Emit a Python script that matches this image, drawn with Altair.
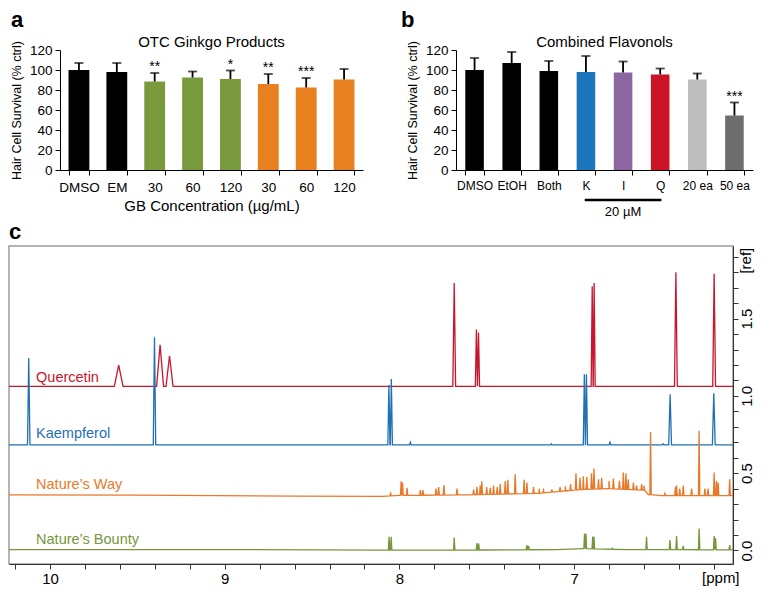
import altair as alt
import numpy as np
import pandas as pd

FONT = "Liberation Sans"

# ---------------- panel a : OTC Ginkgo products ----------------
a_labels = ["DMSO", "EM", "30", "60", "120", "30", "60", "120"]
a_values = [100, 98, 88.5, 92.5, 91, 86, 82.5, 90.5]
a_upper = [107, 107, 97, 98.5, 99.5, 96, 92, 101]
a_stars = ["", "", "**", "", "*", "**", "***", ""]
a_colors = ["#000000", "#000000", "#78993c", "#78993c", "#78993c",
            "#e9801f", "#e9801f", "#e9801f"]

# ---------------- panel b : combined flavonols ----------------
b_labels = ["DMSO", "EtOH", "Both", "K", "I", "Q", "20 ea", "50 ea"]
b_values = [100, 107, 99, 98, 97.5, 95.5, 90.5, 54.5]
b_upper = [112, 118, 109, 114, 108.5, 101.5, 96.5, 67.5]
b_stars = ["", "", "", "", "", "", "", "***"]
b_colors = ["#000000", "#000000", "#000000", "#1b75bb", "#8c66a1",
            "#cc1427", "#bdbdbd", "#6d6d6d"]
b_bracket = ["K", "Q"]
b_bracket_label = "20 µM"

y_ticks = [0, 20, 40, 60, 80, 100, 120]

# ---------------- panel c : 1H NMR spectra ----------------
spec_names = ["Quercetin", "Kaempferol", "Nature’s Way", "Nature’s Bounty"]
spec_colors = ["#c8162c", "#1f70b4", "#e8792a", "#77963c"]
label_ppm = 10.08
label_val = [1.119, 0.756, 0.425, 0.069]

q_base_ppm = [10.27, 6.046]
q_base = [1.062, 1.062]
q_pk_ppm = [9.607, 9.370, 9.316, 7.686, 7.559, 7.547, 6.896, 6.885, 6.417, 6.198]
q_pk_top = [1.20, 1.33, 1.26, 1.73, 1.43, 1.41, 1.71, 1.73, 1.80, 1.79]
q_pk_w = [0.025, 0.02, 0.02, 0.008, 0.006, 0.006, 0.006, 0.006, 0.008, 0.008]

k_base_ppm = [10.27, 6.046]
k_base = [0.683, 0.683]
k_pk_ppm = [10.122, 9.402, 8.060, 8.046, 7.937, 7.13, 6.941, 6.929, 6.794, 6.49, 6.450, 6.200]
k_pk_top = [1.245, 1.38, 1.07, 1.11, 0.70, 0.69, 1.14, 1.14, 0.70, 0.69, 1.01, 1.017]
k_pk_w = [0.007, 0.007, 0.006, 0.006, 0.005, 0.004, 0.006, 0.006, 0.005, 0.005, 0.008, 0.008]

nw_base_ppm = [10.27, 9.5, 8.6, 8.1, 8.0, 7.6, 7.2, 7.05, 6.95, 6.8, 6.6, 6.575, 6.5, 6.3, 6.046]
nw_base = [0.36, 0.358, 0.352, 0.35, 0.356, 0.36, 0.37, 0.385, 0.395, 0.40, 0.39, 0.362, 0.355, 0.355, 0.355]
nw_pk_ppm = [8.05, 7.990, 7.982, 7.956, 7.880, 7.865, 7.790, 7.775, 7.745, 7.670,
             7.575, 7.556, 7.537, 7.528, 7.500, 7.480, 7.461, 7.440, 7.423, 7.394,
             7.379, 7.337, 7.286, 7.270, 7.232, 7.200, 7.175, 7.127, 7.080, 7.050,
             7.020, 6.989, 6.966, 6.947, 6.927, 6.900, 6.886, 6.860, 6.842, 6.800,
             6.775, 6.740, 6.718, 6.703, 6.690, 6.660, 6.642, 6.613, 6.600, 6.562,
             6.480, 6.420, 6.413, 6.395, 6.375, 6.327, 6.284, 6.251, 6.233, 6.198,
             6.185, 6.175, 6.109, 6.086, 6.065]
nw_pk_top = [0.37, 0.448, 0.44, 0.406, 0.39, 0.39, 0.40, 0.41, 0.423, 0.40,
             0.395, 0.41, 0.42, 0.448, 0.41, 0.405, 0.42, 0.41, 0.43, 0.45,
             0.458, 0.495, 0.458, 0.44, 0.41, 0.40, 0.39, 0.395, 0.41, 0.415,
             0.43, 0.50, 0.47, 0.48, 0.475, 0.50, 0.53, 0.46, 0.47, 0.45,
             0.465, 0.45, 0.505, 0.50, 0.46, 0.44, 0.42, 0.43, 0.42, 0.767,
             0.37, 0.41, 0.42, 0.40, 0.42, 0.40, 0.775, 0.40, 0.40, 0.504,
             0.45, 0.44, 0.46, 0.42, 0.41]
nw_pk_w = [0.004] * len(nw_pk_ppm)

nb_base_ppm = [10.27, 9.0, 8.1, 7.5, 7.1, 6.95, 6.7, 6.046]
nb_base = [0.005, 0.006, 0.002, 0.003, 0.006, 0.012, 0.006, 0.004]
nb_pk_ppm = [8.059, 8.047, 7.686, 7.556, 7.546, 7.270, 7.260, 6.940, 6.932, 6.893,
             6.886, 6.780, 6.585, 6.451, 6.413, 6.375, 6.284, 6.198, 6.190, 6.109, 6.086]
nb_pk_top = [0.088, 0.088, 0.083, 0.048, 0.045, 0.035, 0.03, 0.11, 0.108, 0.09,
             0.088, 0.015, 0.088, 0.067, 0.094, 0.03, 0.142, 0.094, 0.08, 0.035, 0.02]
nb_pk_w = [0.004] * len(nb_pk_ppm)

x_ticks_c = [round(10.2 - 0.2 * i, 1) for i in range(21)]
y_ticks_c = [i / 10 for i in range(20)]
x_dom_c = [6.09, 10.235]
y_dom_c = [-0.0875, 1.97]

# ---------------- sizes ----------------
WA, HA = 303, 120
WB, HB = 297, 120
WC, HC = 724, 318
LETTER = 22


def one(text):
    return pd.DataFrame({"t": [text]})


def letter_mark(letter, x, y_base):
    # baseline placed at y_base (relative to plot top), drawn with a top baseline
    return alt.Chart(one(letter)).mark_text(
        fontSize=LETTER, fontWeight="bold", font=FONT, align="left",
        baseline="top").encode(text="t:N", x=alt.value(x),
                               y=alt.value(y_base - 0.79 * LETTER))


def bar_panel(labels, values, upper, stars, colors, W, H, pad, letter, letter_x,
              sub, xtitle, lab_size, bracket=None, bracket_label=None):
    df = pd.DataFrame({"idx": list(range(len(labels))), "value": values,
                       "upper": upper, "star": stars, "color": colors})
    lab_expr = "[" + ",".join("'" + l + "'" for l in labels) + "][datum.value]"
    xaxis_kw = dict(labelExpr=lab_expr, labelAngle=0, tickBand="extent",
                    tickSize=5, labelPadding=5, labelFontSize=lab_size,
                    labelOverlap=False,
                    titleFontSize=15, titlePadding=5, domainColor="black",
                    tickColor="black")
    xaxis_kw["title"] = xtitle if xtitle else None
    x = alt.X("idx:O", scale=alt.Scale(paddingInner=pad, paddingOuter=pad / 2),
              axis=alt.Axis(**xaxis_kw))
    base = alt.Chart(df).encode(x=x)
    bars = base.mark_bar().encode(
        y=alt.Y("value:Q", scale=alt.Scale(domain=[0, 120], nice=False),
                axis=alt.Axis(values=y_ticks, tickCount=len(y_ticks) + 5,
                              title="Hair Cell Survival (% ctrl)",
                              titleFontSize=12.5, titlePadding=6, tickSize=5,
                              labelPadding=3, labelFontSize=13.5,
                              labelOverlap=False,
                              domainColor="black", tickColor="black")),
        color=alt.Color("color:N", scale=None),
    )
    err = base.mark_rule(color="black", strokeWidth=1.8).encode(
        y="value:Q", y2="upper:Q")
    cap = base.mark_tick(color="black", thickness=1.8, size=9).encode(y="upper:Q")
    star = base.mark_text(baseline="alphabetic", dy=-2, fontSize=14,
                          font=FONT).encode(y="upper:Q", text="star:N")
    subt = alt.Chart(one(sub)).mark_text(
        fontSize=15, font=FONT, baseline="middle").encode(
        text="t:N", x=alt.value(W / 2), y=alt.value(-8))
    layers = [bars, err, cap, star, subt, letter_mark(letter, letter_x, -23)]
    if bracket:
        bdf = pd.DataFrame({"s": [labels.index(bracket[0])],
                            "e": [labels.index(bracket[1])],
                            "m": [labels.index(bracket[0]) + 1],
                            "t": [bracket_label]})
        rule = alt.Chart(bdf).mark_rule(color="black", strokeWidth=2.5,
                                        strokeCap="square").encode(
            x=alt.X("s:O"), x2="e:O", y=alt.value(H + 30))
        btxt = alt.Chart(bdf).mark_text(fontSize=13, font=FONT,
                                        baseline="middle").encode(
            x=alt.X("m:O"), y=alt.value(H + 42), text="t:N")
        layers += [rule, btxt]
    return alt.layer(*layers).properties(width=W, height=H)


panel_a = bar_panel(a_labels, a_values, a_upper, a_stars, a_colors, WA, HA,
                    0.45, "a", -49, "OTC Ginkgo Products", "GB Concentration (µg/mL)", 13.5)
panel_b = bar_panel(b_labels, b_values, b_upper, b_stars, b_colors, WB, HB,
                    0.5, "b", -55, "Combined Flavonols", None, 12,
                    bracket=b_bracket, bracket_label=b_bracket_label)


def build_trace(name, base_ppm, base_val, pk_ppm, pk_top, pk_w):
    bp = np.array(base_ppm[::-1], dtype=float)
    bv = np.array(base_val[::-1], dtype=float)
    pts = list(zip(base_ppm, base_val))
    for p, t, w in zip(pk_ppm, pk_top, pk_w):
        b = float(np.interp(p, bp, bv))
        pts += [(p + w, b), (p, t), (p - w, b)]
    pts.sort(key=lambda r: -r[0])
    return pd.DataFrame({"ppm": [r[0] for r in pts], "val": [r[1] for r in pts],
                         "ord": list(range(len(pts))), "series": name})


traces = [
    build_trace(spec_names[3], nb_base_ppm, nb_base, nb_pk_ppm, nb_pk_top, nb_pk_w),
    build_trace(spec_names[0], q_base_ppm, q_base, q_pk_ppm, q_pk_top, q_pk_w),
    build_trace(spec_names[1], k_base_ppm, k_base, k_pk_ppm, k_pk_top, k_pk_w),
    build_trace(spec_names[2], nw_base_ppm, nw_base, nw_pk_ppm, nw_pk_top, nw_pk_w),
]

xc = alt.X("ppm:Q", scale=alt.Scale(domain=x_dom_c, reverse=True, nice=False, zero=False),
           axis=alt.Axis(values=x_ticks_c, tickCount=len(x_ticks_c) + 5, title=None,
                         grid=False, tickSize=5,
                         labelPadding=2, labelFontSize=15, domainColor="#333333",
                         tickColor="#333333", labelOverlap=False,
                         labelExpr="round(datum.value*10) % 10 == 0 ? format(datum.value, 'd') : ''"))
yc = alt.Y("val:Q", scale=alt.Scale(domain=y_dom_c, nice=False, zero=False),
           axis=alt.Axis(orient="right", values=y_ticks_c, tickCount=len(y_ticks_c) + 5,
                         title=None, grid=False,
                         tickSize=5, labelPadding=1, labelFontSize=15,
                         labelAngle=270, labelAlign="center", labelBaseline="top",
                         domainColor="#333333", tickColor="#333333", labelOverlap=False,
                         labelExpr="round(datum.value*10) % 5 == 0 ? format(datum.value, '.1f') : ''"))

line_layers = []
for df in traces:
    col = spec_colors[spec_names.index(df["series"].iloc[0])]
    line_layers.append(alt.Chart(df).mark_line(color=col, strokeWidth=1.3, clip=True)
                       .encode(x=xc, y=yc, order="ord:Q"))

lab_df = pd.DataFrame({"ppm": [label_ppm] * 4, "val": label_val, "name": spec_names,
                       "col": spec_colors})
labels_c = alt.Chart(lab_df).mark_text(align="left", baseline="middle", fontSize=14.5,
                                       font=FONT).encode(
    x="ppm:Q", y="val:Q", text="name:N", color=alt.Color("col:N", scale=None))
ref_txt = alt.Chart(one("[ref]")).mark_text(
    angle=270, align="center", baseline="top", fontSize=15, font=FONT).encode(
    text="t:N", x=alt.value(WC + 6), y=alt.datum(1.875))
ppm_txt = alt.Chart(one("[ppm]")).mark_text(
    align="center", baseline="top", fontSize=15, font=FONT).encode(
    text="t:N", x=alt.datum(6.16), y=alt.value(HC + 7))

panel_c = alt.layer(*line_layers, labels_c, ref_txt, ppm_txt,
                    letter_mark("c", 0, -7)).properties(
    width=WC, height=HC,
    view=alt.ViewBackground(stroke="#9c9c9c", strokeWidth=1.5))

spacer = alt.Chart(one("")).mark_text().encode(text="t:N").properties(width=1, height=1)
row1 = alt.hconcat(spacer, alt.hconcat(panel_a, panel_b, spacing=38), spacing=0)

chart = alt.vconcat(row1, panel_c, spacing=0).properties(padding=0).configure_view(
    stroke=None).configure_axis(
    labelFont=FONT, titleFont=FONT, labelColor="black", titleColor="black",
    titleFontWeight="normal", grid=False
).configure_text(font=FONT)

chart.save("out.html", embed_options={"renderer": "svg", "actions": False})
